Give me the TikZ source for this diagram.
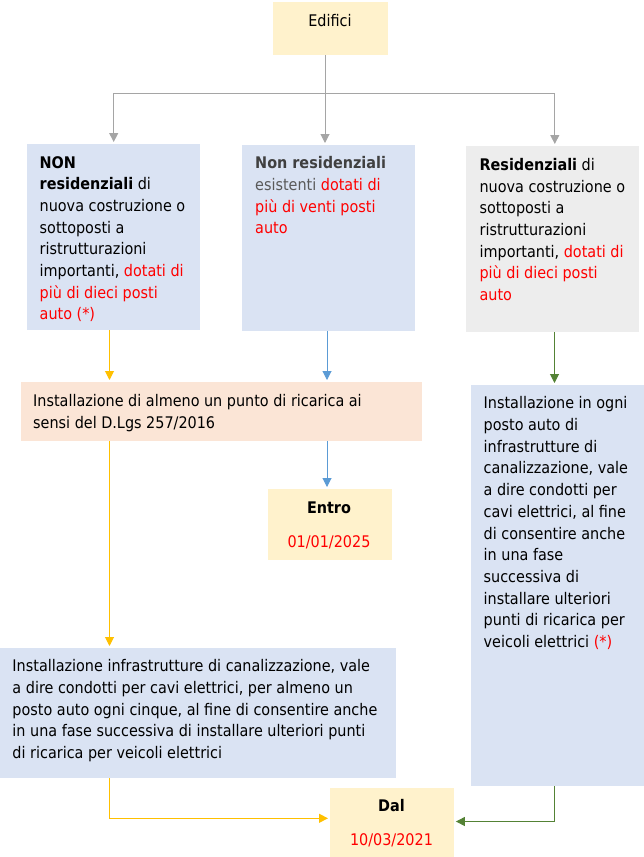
\documentclass[tikz,border=0pt]{standalone}
\usepackage{fontspec}
\setmainfont{DejaVu Sans Condensed}
\usetikzlibrary{arrows.meta}
\definecolor{boxblue}{HTML}{DAE3F3}
\definecolor{boxyellow}{HTML}{FFF2CC}
\definecolor{boxpeach}{HTML}{FBE5D6}
\definecolor{boxgray}{HTML}{EDEDED}
\definecolor{lngray}{HTML}{A5A5A5}
\definecolor{lnyellow}{HTML}{FFC000}
\definecolor{lnblue}{HTML}{5B9BD5}
\definecolor{lngreen}{HTML}{548235}
\definecolor{txtred}{HTML}{FF0000}
\definecolor{txtdark}{HTML}{404040}
\definecolor{txtgray}{HTML}{595959}
\newcommand{\rd}[1]{{\color{txtred}#1}}
\tikzset{
  boxnode/.style={draw=none, inner sep=0pt, anchor=north west},
  txt/.style={inner sep=0pt, anchor=north west, align=left, font=\fontsize{16}{21.7}\selectfont},
  ctxt/.style={inner sep=0pt, anchor=center, font=\fontsize{16}{21.7}\selectfont},
  conn/.style={line width=1pt},
  tip/.style={conn, -{Triangle[width=9pt,length=9pt]}, shorten >=2pt},
}
\begin{document}
\begin{tikzpicture}[x=1pt,y=-1pt]
\useasboundingbox (0,0) rectangle (644,857);
% boxes
\node[boxnode, fill=boxyellow, minimum width=115pt, minimum height=53pt] (ed) at (272.5,2) {};
\node[boxnode, fill=boxblue, minimum width=173pt, minimum height=186pt] (b1) at (27,144) {};
\node[boxnode, fill=boxblue, minimum width=173pt, minimum height=186pt] (b2) at (241.5,145) {};
\node[boxnode, fill=boxgray, minimum width=173pt, minimum height=186pt] (b3) at (465.6,146) {};
\node[boxnode, fill=boxpeach, minimum width=401pt, minimum height=59pt] (b4) at (21,382) {};
\node[boxnode, fill=boxyellow, minimum width=124pt, minimum height=71pt] (en) at (267.5,489) {};
\node[boxnode, fill=boxblue, minimum width=173pt, minimum height=401pt] (b5) at (471,385) {};
\node[boxnode, fill=boxblue, minimum width=396pt, minimum height=130pt] (b6) at (0,648) {};
\node[boxnode, fill=boxyellow, minimum width=123.5pt, minimum height=69pt] (dal) at (330,788) {};
% texts
\node[ctxt] (edt) at (330,21) {Edifici};
\node[txt] (b1t) at (39.5,156) {\textbf{NON}\\
\textbf{residenziali} di\\
nuova costruzione o\\
sottoposti a\\
ristrutturazioni\\
importanti, \rd{dotati di}\\
\rd{più di dieci posti}\\
\rd{auto (*)}};
\node[txt] (b2t) at (255,156.5) {{\color{txtdark}\textbf{Non residenziali}}\\
{\color{txtgray}esistenti} \rd{dotati di}\\
\rd{più di venti posti}\\
\rd{auto}};
\node[txt] (b3t) at (479.4,158) {\textbf{Residenziali} di\\
nuova costruzione o\\
sottoposti a\\
ristrutturazioni\\
importanti, \rd{dotati di}\\
\rd{più di dieci posti}\\
\rd{auto}};
\node[txt] (b4t) at (33,394) {Installazione di almeno un punto di ricarica ai\\
sensi del D.Lgs 257/2016};
\node[ctxt, font=\fontsize{16}{21.7}\selectfont\bfseries] (ent) at (329,507.5) {Entro};
\node[ctxt] (end) at (329,542) {\rd{01/01/2025}};
\node[txt] (b5t) at (483.5,396.5) {Installazione in ogni\\
posto auto di\\
infrastrutture di\\
canalizzazione, vale\\
a dire condotti per\\
cavi elettrici, al fine\\
di consentire anche\\
in una fase\\
successiva di\\
installare ulteriori\\
punti di ricarica per\\
veicoli elettrici \rd{(*)}};
\node[txt] (b6t) at (12.3,659.5) {Installazione infrastrutture di canalizzazione, vale\\
a dire condotti per cavi elettrici, per almeno un\\
posto auto ogni cinque, al fine di consentire anche\\
in una fase successiva di installare ulteriori punti\\
di ricarica per veicoli elettrici};
\node[ctxt, font=\fontsize{16}{21.7}\selectfont\bfseries] (dalt) at (391.5,805.5) {Dal};
\node[ctxt] (dald) at (391.5,840) {\rd{10/03/2021}};
% connectors
\coordinate (sp) at (325,93.3);
\draw[conn, lngray] (ed.south -| sp) -- (sp);
\draw[tip, lngray] (sp) -| (b1.north);
\draw[tip, lngray] (sp) -- (sp |- b2.north);
\draw[tip, lngray] (sp) -| ([xshift=2.5pt]b3.north);
\coordinate (yx) at (109.5,0);
\draw[tip, lnyellow] (b1.south -| yx) -- (b4.north -| yx);
\draw[tip, lnyellow] (b4.south -| yx) -- (b6.north -| yx);
\coordinate (yc) at (109.5,818.3);
\draw[tip, lnyellow] (b6.south -| yc) -- (yc) -- (yc -| dal.west);
\coordinate (bx) at (327,0);
\draw[tip, lnblue] (b2.south -| bx) -- (b4.north -| bx);
\draw[tip, lnblue] (b4.south -| bx) -- (en.north -| bx);
\coordinate (gx) at (554.5,0);
\draw[tip, lngreen] (b3.south -| gx) -- (b5.north -| gx);
\coordinate (gc) at (554.5,821.5);
\draw[tip, lngreen] (b5.south -| gc) -- (gc) -- (gc -| dal.east);
\end{tikzpicture}
\end{document}
